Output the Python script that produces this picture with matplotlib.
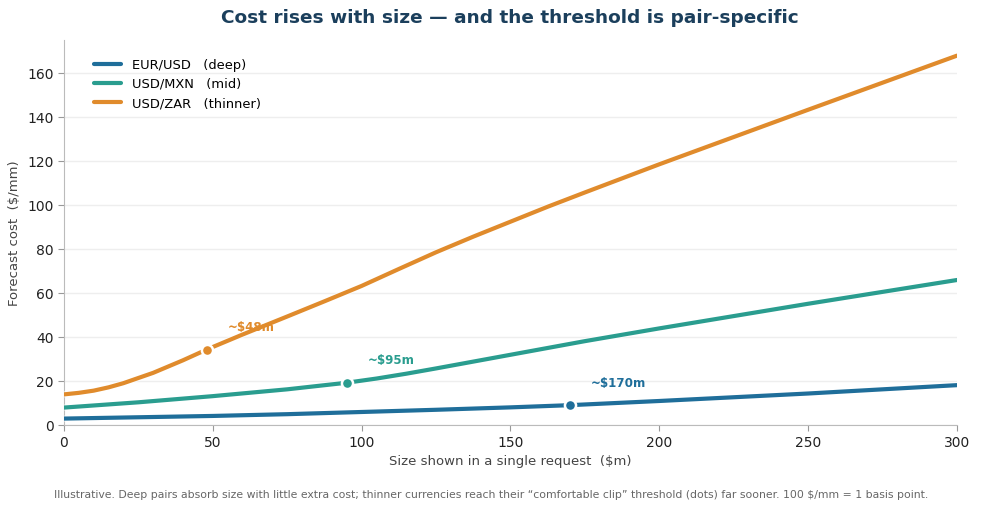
import matplotlib
matplotlib.use('Agg')
import matplotlib.pyplot as plt
import matplotlib.patheffects as pe

# sizes ($m) and forecast cost ($/mm)
eur_size = [0, 25, 50, 75, 100, 125, 150, 170, 200, 225, 250, 275, 300]
eur_cost = [3.0, 3.6, 4.2, 5.0, 6.0, 7.0, 8.1, 9.1, 11.0, 12.7, 14.4, 16.3, 18.2]

mxn_size = [0, 25, 50, 75, 95, 105, 115, 125, 150, 175, 200, 225, 250, 275, 300]
mxn_cost = [8.0, 10.4, 13.2, 16.3, 19.3, 21.2, 23.4, 25.8, 32.0, 38.2, 44.0, 49.6, 55.2, 60.6, 66.0]

zar_size = [0, 5, 10, 15, 20, 30, 40, 48, 60, 75, 87.5, 100, 112.5, 125, 137.5, 150, 162.5, 175,
            187.5, 200, 225, 250, 275, 300]
zar_cost = [14.0, 14.7, 15.7, 17.2, 19.1, 23.8, 29.5, 34.4, 41.2, 49.4, 56.3, 63.3, 71.0, 78.6,
            85.7, 92.5, 99.3, 105.8, 112.2, 118.6, 131.0, 143.4, 155.7, 168.0]

series_labels = ['EUR/USD   (deep)', 'USD/MXN   (mid)', 'USD/ZAR   (thinner)']
threshold_size = [170, 95, 48]
threshold_cost = [9.1, 19.3, 34.4]
threshold_text = ['~$170m', '~$95m', '~$48m']

colors = ['#1f6e9a', '#2a9d8f', '#e08b2c']

fig = plt.figure(figsize=(9.83, 5.16), dpi=100)
ax = fig.add_axes([0.065, 0.176, 0.9085, 0.746])

sizes = [eur_size, mxn_size, zar_size]
costs = [eur_cost, mxn_cost, zar_cost]
for i in range(3):
    ax.plot(sizes[i], costs[i], color=colors[i], linewidth=3, label=series_labels[i],
            solid_capstyle='round', solid_joinstyle='round', zorder=3,
            path_effects=[pe.Stroke(linewidth=4.5, foreground='white', alpha=0.6), pe.Normal()])
    ax.plot(threshold_size[i], threshold_cost[i], 'o', color=colors[i], markersize=8,
            markeredgecolor='white', markeredgewidth=1.8, zorder=4)
    ax.annotate(threshold_text[i], (threshold_size[i], threshold_cost[i]),
                xytext=(15, 11), textcoords='offset points', color=colors[i],
                fontsize=8.6, fontweight='bold', va='bottom', ha='left')

ax.set_xlim(0, 300)
ax.set_ylim(0, 175)
ax.set_xticks([0, 50, 100, 150, 200, 250, 300])
ax.set_yticks([0, 20, 40, 60, 80, 100, 120, 140, 160])
ax.tick_params(labelsize=10, colors='#222222', length=4)
ax.tick_params(axis='both', color='#999999')
ax.grid(axis='y', color='#eeeeee', linewidth=1)
ax.set_axisbelow(True)
for s in ['top', 'right']:
    ax.spines[s].set_visible(False)
for s in ['left', 'bottom']:
    ax.spines[s].set_color('#bbbbbb')

ax.set_xlabel('Size shown in a single request  ($m)', fontsize=9.5, color='#444444')
ax.set_ylabel('Forecast cost  ($/mm)', fontsize=9.5, color='#444444')

ax.legend(loc='upper left', frameon=False, fontsize=9.4, handlelength=2.1,
          handletextpad=0.8, labelspacing=0.48,
          borderaxespad=1.0, bbox_to_anchor=(0.013, 1.0))

fig.suptitle('Cost rises with size \u2014 and the threshold is pair-specific',
             fontsize=13.3, fontweight='bold', color='#1b3f5c', x=0.519, y=0.983)
fig.text(0.5, 0.035, 'Illustrative. Deep pairs absorb size with little extra cost; thinner currencies '
         'reach their \u201ccomfortable clip\u201d threshold (dots) far sooner. 100 $/mm = 1 basis point.',
         ha='center', fontsize=7.8, color='#666666')

fig.savefig('out.png', dpi=100)
